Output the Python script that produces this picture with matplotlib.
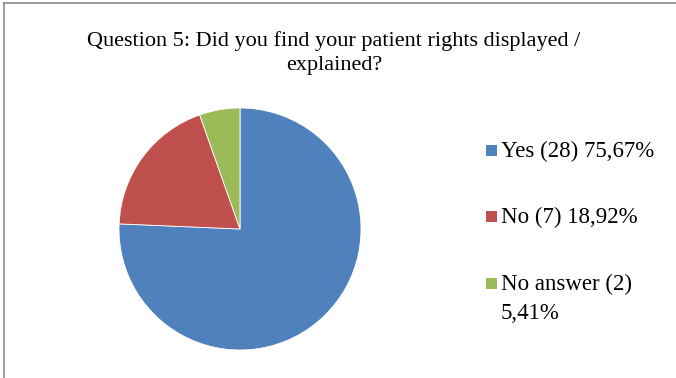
import matplotlib
matplotlib.use("Agg")
from matplotlib import pyplot as plt
from matplotlib.patches import Rectangle
from matplotlib.lines import Line2D

plt.rcParams['font.family'] = ['Liberation Serif', 'DejaVu Serif']

labels = ['Yes (28) 75,67%', 'No (7) 18,92%', 'No answer (2)\n5,41%']
counts = [28, 7, 2]
colors = ['#4F81BD', '#C0504D', '#9BBB59']
title = 'Question 5: Did you find your patient rights displayed /\nexplained?'

W, H = 676, 378
fig = plt.figure(figsize=(W / 100, H / 100), dpi=100)

# pie area
cx, cy, r = 240, 229, 121
ax = fig.add_axes([(cx - r) / W, (H - cy - r) / H, 2 * r / W, 2 * r / H])
ax.pie(counts, colors=colors, startangle=90, counterclock=False,
       wedgeprops=dict(edgecolor='white', linewidth=0.6))
ax.set_xlim(-1, 1)
ax.set_ylim(-1, 1)
ax.set_aspect('equal')

fig.text(334 / W, 1 - 53 / H, title, ha='center', va='center',
         fontsize=16, linespacing=1.3, color='black')

# legend
rows = [150.5, 216.5, 283.5]
for lab, col, y in zip(labels, colors, rows):
    fig.add_artist(Rectangle((486 / W, 1 - (y + 5.5) / H), 11 / W, 11 / H,
                             transform=fig.transFigure, facecolor=col,
                             edgecolor='none'))
    fig.text(501 / W, 1 - (y - 10) / H, lab, ha='left', va='top',
             fontsize=16.5, linespacing=1.5)

# chart frame
fig.add_artist(Line2D([4 / W, 4 / W], [0, 1 - 3 / H], transform=fig.transFigure,
                      color='#8c8c8c', linewidth=1.2))
fig.add_artist(Line2D([4 / W, 1], [1 - 3 / H, 1 - 3 / H], transform=fig.transFigure,
                      color='#8c8c8c', linewidth=1.2))

fig.savefig('out.png', dpi=100)
